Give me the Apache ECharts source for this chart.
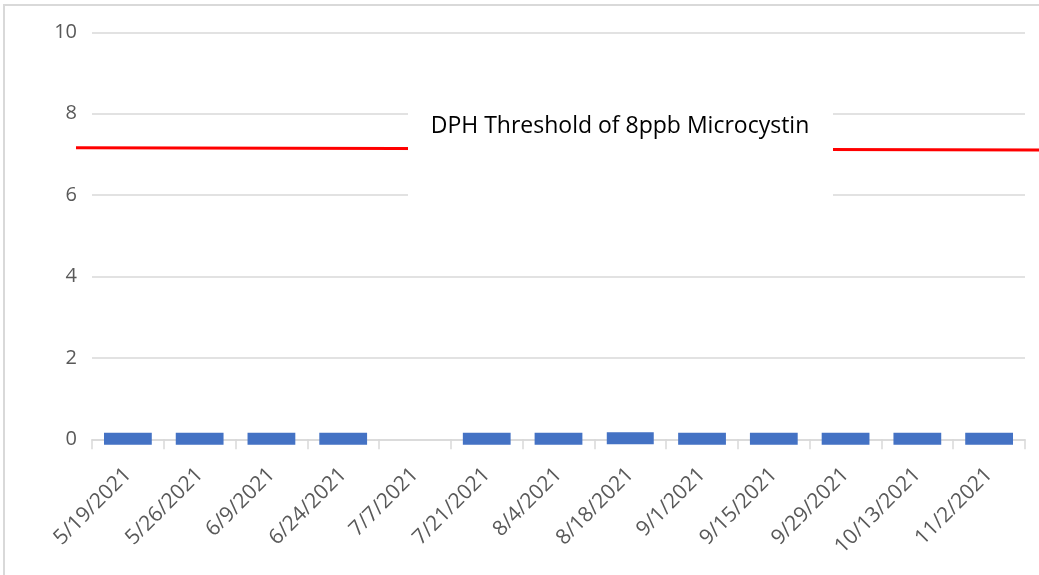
<!DOCTYPE html>
<html><head><meta charset="utf-8">
<script src="https://cdn.jsdelivr.net/npm/echarts@6/dist/echarts.min.js"></script>
<style>
html,body{margin:0;padding:0;background:#fff;width:1039px;height:575px;overflow:hidden;}
#frame{position:absolute;left:3px;top:4px;width:1100px;height:700px;border:2px solid #d9d9d9;box-sizing:border-box;}
#chart{position:absolute;left:0;top:0;width:1039px;height:575px;}
</style></head>
<body>
<div id="frame"></div>
<div id="chart"></div>
<script>
var categories = ['5/19/2021','5/26/2021','6/9/2021','6/24/2021','7/7/2021','7/21/2021','8/4/2021','8/18/2021','9/1/2021','9/15/2021','9/29/2021','10/13/2021','11/2/2021'];
var microcystin = [0.03,0.03,0.03,0.03,null,0.03,0.03,0.05,0.03,0.03,0.03,0.03,0.03];
var yTicks = [0,2,4,6,8,10];
var thresholdX = [0, 1];
var thresholdY = [7.165, 7.11];
var thresholdLabel = 'DPH Threshold of 8ppb Microcystin';

var chart = echarts.init(document.getElementById('chart'), null, {renderer:'canvas'});
var FONT = 'Open Sans';
var yMin = yTicks[0], yMax = yTicks[yTicks.length-1], yInt = yTicks[1]-yTicks[0];
chart.setOption({
  animation:false,
  backgroundColor:'transparent',
  grid:[
    {left:92, right:14, top:32.3, bottom:135.7, containLabel:false},
    {left:76, right:0, top:32.3, bottom:135.7, containLabel:false}
  ],
  xAxis:[{
    type:'category', data:categories, boundaryGap:true, gridIndex:0,
    axisLine:{show:true, lineStyle:{color:'#d9d9d9', width:1.5}},
    axisTick:{show:true, length:10, alignWithLabel:false, lineStyle:{color:'#d9d9d9', width:1.5}},
    axisLabel:{rotate:45, margin:32, color:'#595959', fontFamily:FONT, fontSize:21, interval:0}
  },{
    type:'value', min:thresholdX[0], max:thresholdX[1], show:false, gridIndex:1
  }],
  yAxis:[{
    type:'value', min:yMin, max:yMax, interval:yInt, gridIndex:0,
    axisLine:{show:false}, axisTick:{show:false},
    splitLine:{lineStyle:{color:'#d9d9d9', width:1.5}},
    axisLabel:{color:'#595959', fontFamily:FONT, fontSize:20, margin:15}
  },{
    type:'value', min:yMin, max:yMax, interval:yInt, gridIndex:1, show:false
  }],
  series:[{
    type:'bar', data:microcystin, xAxisIndex:0, yAxisIndex:0, barWidth:49, clip:false,
    itemStyle:{color:'#4472C4', borderColor:'#4472C4', borderWidth:12},
    z:3
  },{
    type:'line', xAxisIndex:1, yAxisIndex:1, data:thresholdX.map(function(x,i){return [x, thresholdY[i]];}),
    symbol:'none', clip:false, lineStyle:{color:'#FF0000', width:3}, z:4
  }],
  graphic:[
    {type:'rect', z:100, shape:{x:408, y:95, width:425, height:150}, style:{fill:'#ffffff'}},
    {type:'text', z:101, x:620, y:126, style:{text:thresholdLabel, fill:'#000000', font:'23px "'+FONT+'"', textAlign:'center', textVerticalAlign:'middle'}}
  ]
});
</script>
</body></html>
